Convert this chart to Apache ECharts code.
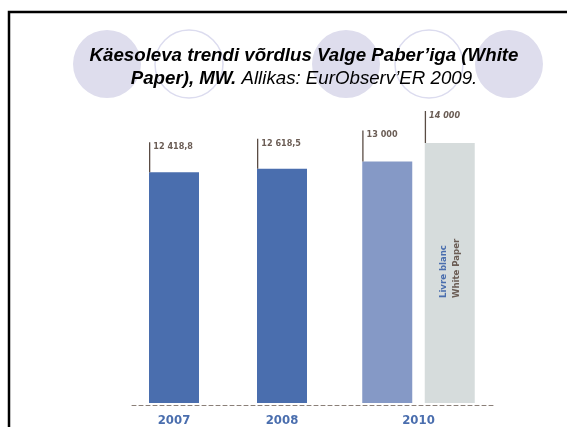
<!DOCTYPE html>
<html>

<head>
    <meta charset="utf-8">
    <title>White Paper</title>
    <script src="https://cdn.jsdelivr.net/npm/echarts@6/dist/echarts.min.js"></script>
    <style>
        html, body { margin: 0; padding: 0; background: #fff; }
        #main { width: 567px; height: 427px; }
    </style>
</head>

<body>
    <div id="main"></div>
    <script>
        // andmed
        var years = ['2007', '2008'];
        var yearValues = [12418.8, 12618.5];
        var groupLabel = ['2010'];
        var groupCats = ['2010', 'White Paper'];
        var groupValues = [13000, 14000];
        var noteText = ['Livre blanc', 'White Paper'];

        var condFont = "'DejaVu Sans Condensed', 'Liberation Sans Narrow', sans-serif";
        var brown = '#6b5d55';
        var blue = '#4a6eae';

        // 12418.8 -> "12 418,8"
        function fmt(v) {
            var s = (v % 1 ? v.toFixed(1) : String(v)).split('.');
            var whole = s[0].replace(/\B(?=(\d{3})+(?!\d))/g, ' ');
            return s[1] ? whole + ',' + s[1] : whole;
        }

        // silt koos vertikaalse joonega tulba vasakul serval
        function leader(h, italic) {
            return {
                show: true,
                position: [0, 0],
                align: 'left',
                verticalAlign: 'bottom',
                formatter: function (p) { return '{l|}{t|' + fmt(p.value) + '}'; },
                rich: {
                    l: { width: 1.3, height: h, backgroundColor: '#5a4c44' },
                    t: {
                        verticalAlign: 'top', padding: [0, 0, 0, 3],
                        fontFamily: condFont, fontSize: 9, fontWeight: 'bold',
                        fontStyle: italic ? 'italic' : 'normal',
                        color: brown, lineHeight: 11
                    }
                }
            };
        }

        var catLabel = {
            color: blue, fontWeight: 'bold', fontSize: 13,
            fontFamily: condFont, margin: 11
        };

        var myChart = echarts.init(document.getElementById('main'));
        myChart.setOption({
            animation: false,
            graphic: [
                // taustaringid
                { type: 'circle', shape: { cx: 107, cy: 64, r: 34 }, style: { fill: '#dedded' }, z: 0 },
                { type: 'circle', shape: { cx: 189, cy: 64, r: 34 }, style: { fill: 'none', stroke: '#dcdcef', lineWidth: 1.5 }, z: 0 },
                { type: 'circle', shape: { cx: 346, cy: 64, r: 34 }, style: { fill: '#dedded' }, z: 0 },
                { type: 'circle', shape: { cx: 429, cy: 64, r: 34 }, style: { fill: 'none', stroke: '#dcdcef', lineWidth: 1.5 }, z: 0 },
                { type: 'circle', shape: { cx: 509, cy: 64, r: 34 }, style: { fill: '#dedded' }, z: 0 },
                // raam
                {
                    type: 'polyline', shape: { points: [[9, 427], [9, 12], [567, 12]] },
                    style: { stroke: '#000', lineWidth: 2.5, fill: 'none' }, z: 1
                },
                // pealkiri
                {
                    type: 'text', x: 304, y: 44, z: 2,
                    style: {
                        text: '{b|Käesoleva trendi võrdlus Valge Paber’iga (White}\n{b|Paper), MW.}{r| Allikas: EurObserv’ER 2009.}',
                        align: 'center',
                        verticalAlign: 'top',
                        rich: {
                            b: { fontFamily: 'Liberation Sans', fontSize: 18.7, fontWeight: 'bold', fontStyle: 'italic', fill: '#000', lineHeight: 23, align: 'center' },
                            r: { fontFamily: 'Liberation Sans', fontSize: 18.7, fontStyle: 'italic', fill: '#000', lineHeight: 23, align: 'center' }
                        }
                    }
                }
            ],
            grid: [
                { left: 120, width: 216, top: 143, bottom: 22 },
                { left: 356, width: 125, top: 143, bottom: 22 },
                { left: 132, width: 363, top: 400, bottom: 22 }
            ],
            xAxis: [
                {
                    type: 'category', gridIndex: 0, data: years,
                    axisLine: { show: false }, axisTick: { show: false }, axisLabel: catLabel
                },
                {
                    type: 'category', gridIndex: 1, data: groupLabel,
                    axisLine: { show: false }, axisTick: { show: false }, axisLabel: catLabel
                },
                { type: 'category', gridIndex: 1, data: groupCats, show: false },
                {
                    type: 'value', gridIndex: 2,
                    axisLine: { show: true, lineStyle: { color: '#8a7f78', width: 1, type: [4, 3] } },
                    axisTick: { show: false }, axisLabel: { show: false }, splitLine: { show: false }
                }
            ],
            yAxis: [
                { type: 'value', gridIndex: 0, min: 0, max: 14000, show: false },
                { type: 'value', gridIndex: 1, min: 0, max: 14000, show: false },
                { type: 'value', gridIndex: 2, show: false }
            ],
            series: [
                {
                    type: 'bar', xAxisIndex: 0, yAxisIndex: 0,
                    data: yearValues, barWidth: 50,
                    itemStyle: { color: blue },
                    label: leader(30, false)
                },
                {
                    type: 'bar', xAxisIndex: 2, yAxisIndex: 1, barWidth: 50, barGap: '-100%',
                    data: [
                        { value: groupValues[0], itemStyle: { color: '#8599c6' }, label: leader(31, false) },
                        { value: groupValues[1], itemStyle: { color: '#d6dcdc' }, label: leader(32, true) }
                    ]
                },
                {
                    // tekst valge paberi tulba sees
                    type: 'bar', xAxisIndex: 2, yAxisIndex: 1, barWidth: 50, barGap: '-100%',
                    data: ['-', groupValues[1]],
                    itemStyle: { color: 'rgba(0,0,0,0)' },
                    label: {
                        show: true, position: 'insideBottom', distance: 105, rotate: 90,
                        align: 'left', verticalAlign: 'middle',
                        formatter: '{a|' + noteText[0] + '}\n{b|' + noteText[1] + '}',
                        rich: {
                            a: { color: blue, fontFamily: condFont, fontSize: 9.5, fontWeight: 'bold', lineHeight: 13 },
                            b: { color: brown, fontFamily: condFont, fontSize: 9.5, fontWeight: 'bold', lineHeight: 13 }
                        }
                    }
                }
            ]
        });
    </script>
</body>

</html>
